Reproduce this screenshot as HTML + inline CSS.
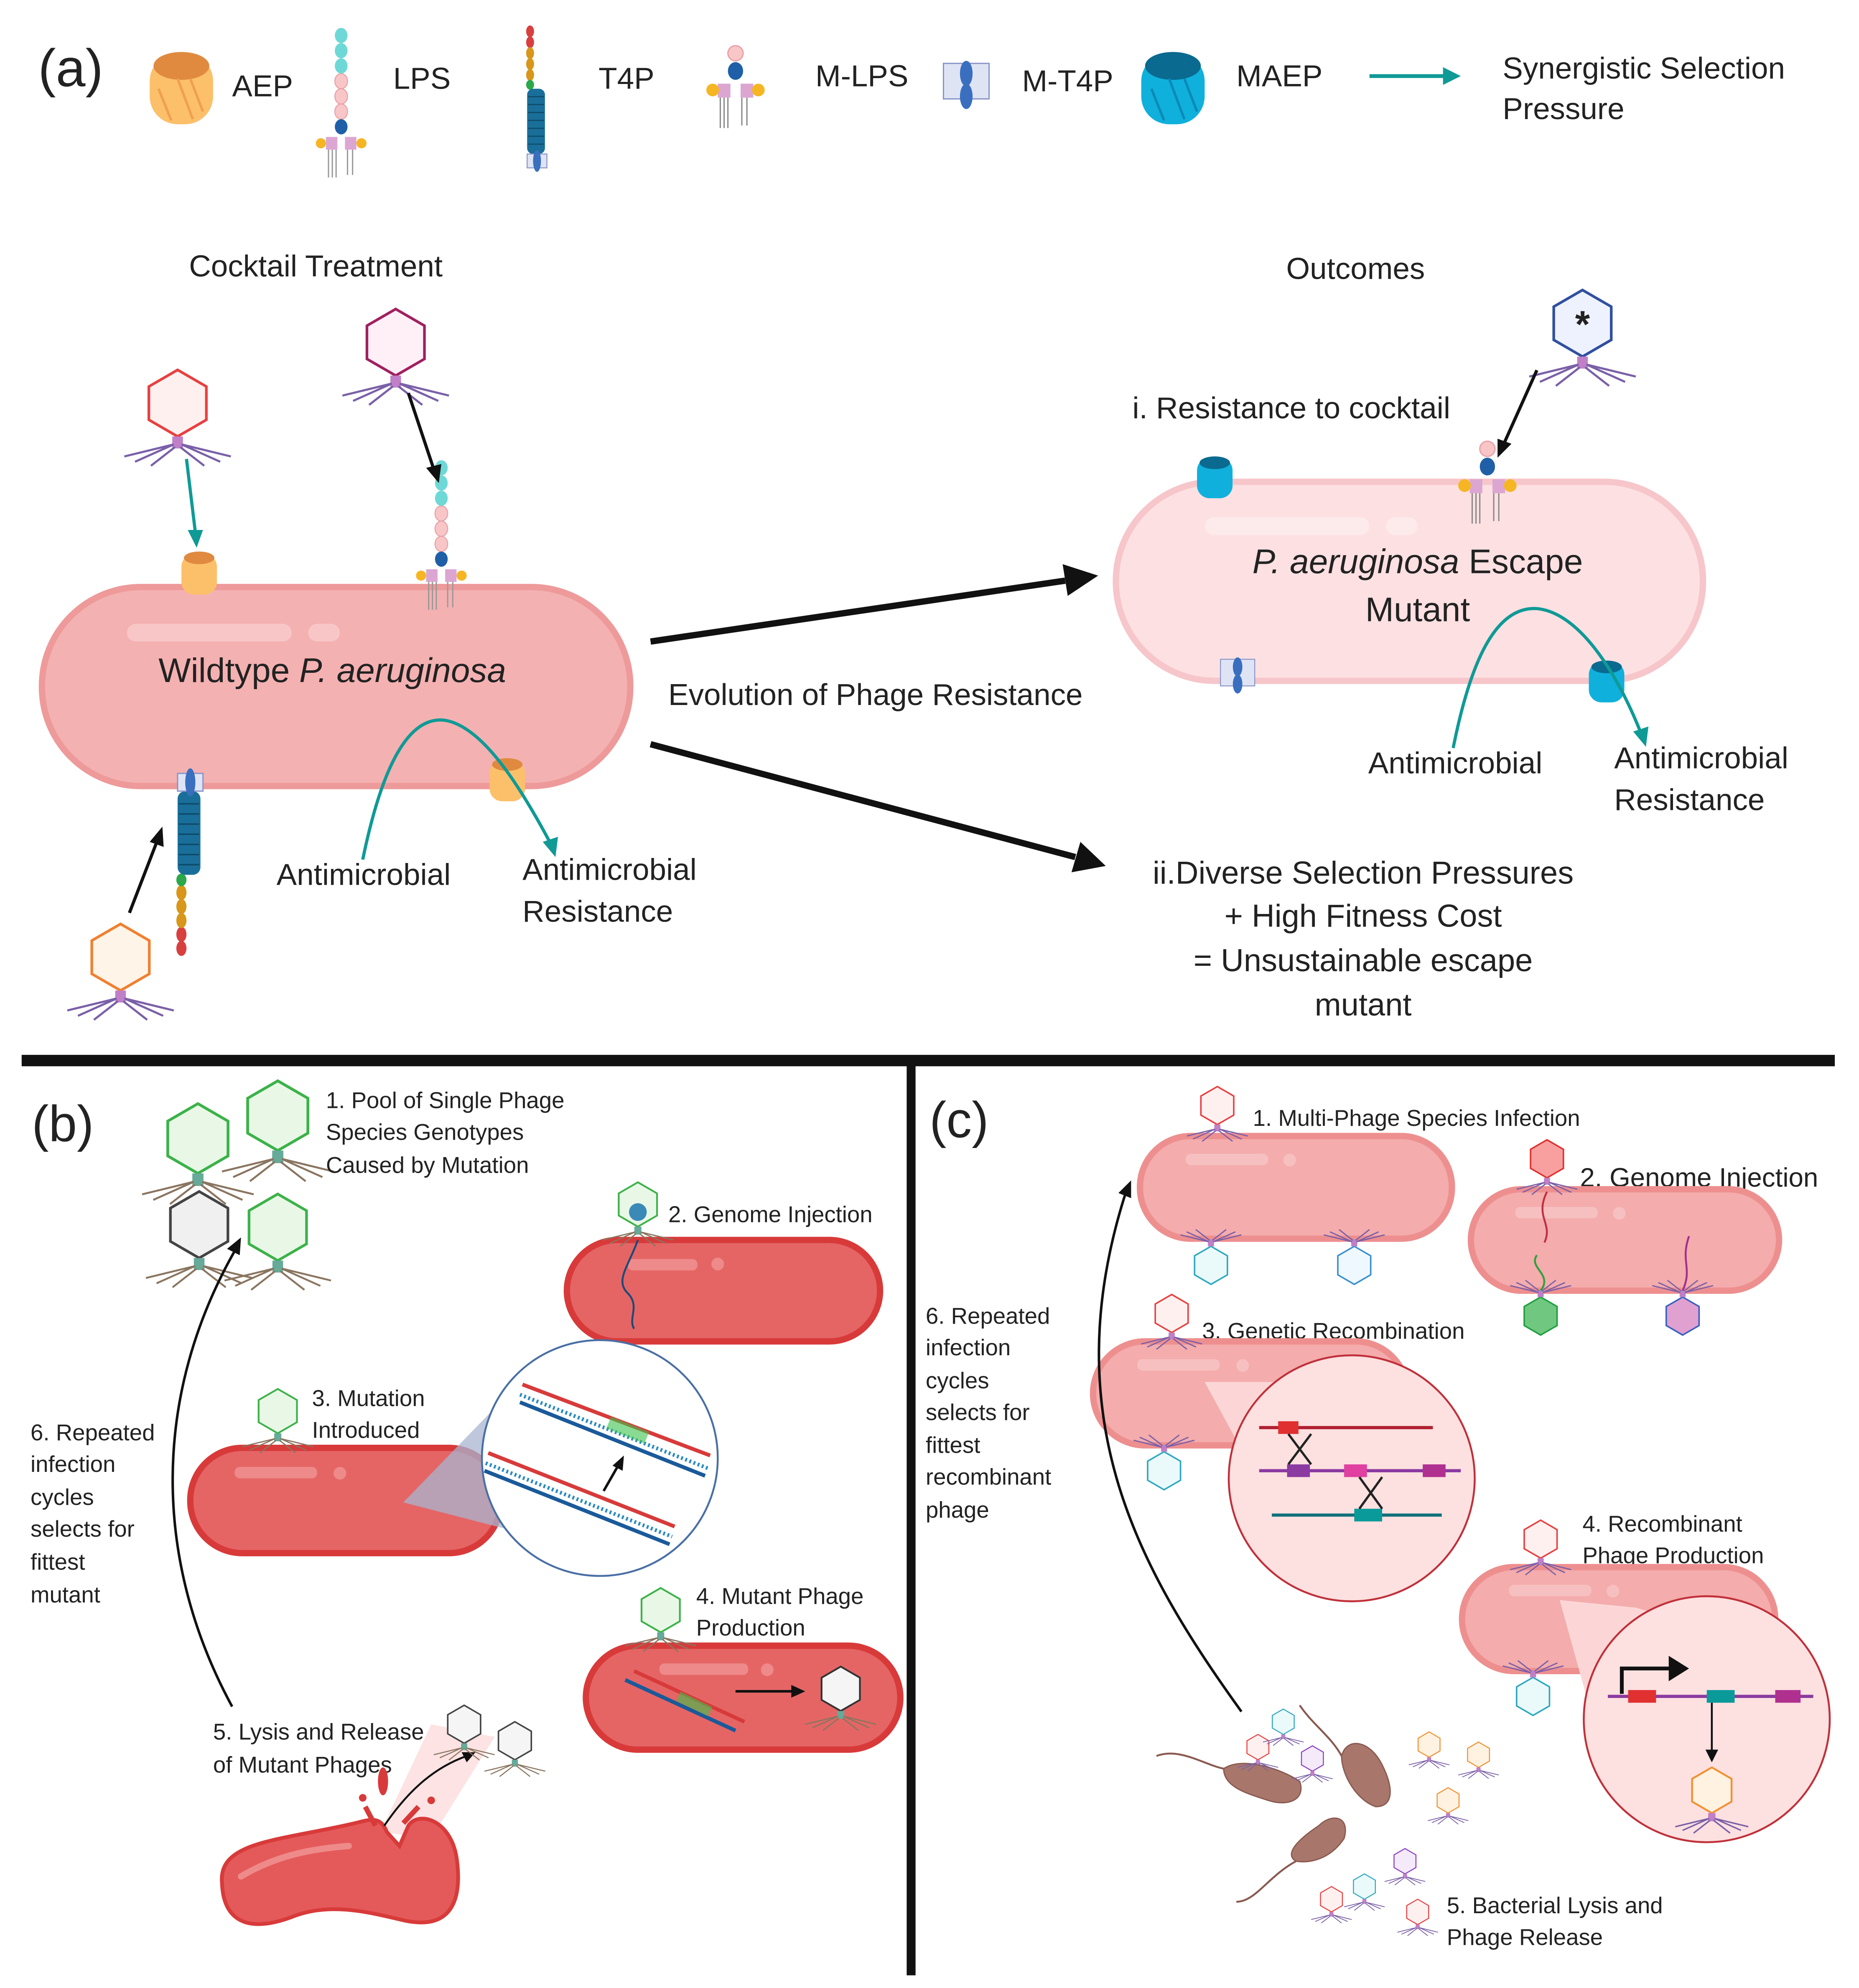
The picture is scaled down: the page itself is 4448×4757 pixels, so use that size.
<!DOCTYPE html>
<html><head><meta charset="utf-8"><style>
html,body{margin:0;padding:0;background:#fff}
svg{display:block}
text{font-family:"Liberation Sans",sans-serif;fill:#222}
</style></head><body>
<svg width="4448" height="4757" viewBox="0 0 1466 1568" xmlns="http://www.w3.org/2000/svg">
<defs>
<g id="ph">
<polygon points="0,-25 21.6,-12.5 21.6,12.5 0,25 -21.6,12.5 -21.6,-12.5" stroke-width="2"/>
<rect x="-4" y="25" width="8" height="9" fill="#c080c8" stroke="none"/>
<path d="M-3,31 L-32,44 M-3,31 L-40,40 M3,31 L32,44 M3,31 L40,40 M-2,33 L-20,47 M2,33 L20,47" stroke="#7a60a8" fill="none" stroke-width="1.6"/>
</g>
<g id="phb">
<polygon points="0,-25 21.6,-12.5 21.6,12.5 0,25 -21.6,12.5 -21.6,-12.5" stroke-width="2"/>
<rect x="-4" y="25" width="8" height="9" fill="#6a9" stroke="none"/>
<path d="M-3,31 L-32,44 M-3,31 L-40,40 M3,31 L32,44 M3,31 L40,40 M-2,33 L-20,47 M2,33 L20,47" stroke="#8a7560" fill="none" stroke-width="1.4"/>
</g>
<g id="lps">
<g fill="#f9c6c8" stroke="#e9a0a6" stroke-width="0.8">
<ellipse cx="0" cy="-20" rx="5" ry="6"/><ellipse cx="0" cy="-8" rx="5" ry="6"/><ellipse cx="0" cy="4" rx="5" ry="6"/></g>
<g fill="#6ed8d6"><ellipse cx="0" cy="-56" rx="5" ry="6"/><ellipse cx="0" cy="-44" rx="5" ry="6"/><ellipse cx="0" cy="-32" rx="5" ry="6"/></g>
<ellipse cx="0" cy="16" rx="5" ry="6" fill="#1f5fa8"/>
<rect x="-12" y="24" width="9" height="10" fill="#dca6d2"/><rect x="3" y="24" width="9" height="10" fill="#dca6d2"/>
<circle cx="-16" cy="29" r="4" fill="#f6b623"/><circle cx="16" cy="29" r="4" fill="#f6b623"/>
<path d="M-10,34 v22 M-7,34 v22 M-4,34 v22 M5,34 v20 M9,34 v20" stroke="#999" stroke-width="1"/>
</g>
<g id="t4p">
<g fill="#d84040"><ellipse cx="0" cy="-58" rx="4" ry="6"/><ellipse cx="0" cy="-47" rx="4" ry="6"/></g>
<g fill="#d8961a"><ellipse cx="0" cy="-36" rx="4" ry="6"/><ellipse cx="0" cy="-25" rx="4" ry="6"/><ellipse cx="0" cy="-14" rx="4" ry="6"/></g>
<ellipse cx="0" cy="-4" rx="4" ry="5" fill="#2aa84a"/>
<rect x="-3" y="0" width="18" height="66" rx="6" fill="#1a6f9a"/>
<path d="M-2,8 h16 M-2,16 h16 M-2,24 h16 M-2,32 h16 M-2,40 h16 M-2,48 h16 M-2,56 h16" stroke="#0e4b6a" stroke-width="1.2"/>
<rect x="-3" y="66" width="20" height="14" fill="#dfe4f4" stroke="#8a94c8"/>
<ellipse cx="7" cy="73" rx="4" ry="11" fill="#3a6fbf"/>
</g>
<g id="mt4p">
<rect x="-18" y="0" width="36" height="28" fill="#dfe4f4" stroke="#8a94c8"/>
<ellipse cx="0" cy="8" rx="5" ry="10" fill="#3a6fbf"/><ellipse cx="0" cy="26" rx="5" ry="10" fill="#3a6fbf"/>
</g>
<g id="mlps">
<ellipse cx="0" cy="-20" rx="6" ry="6" fill="#f9c6c8" stroke="#e9a0a6"/>
<ellipse cx="0" cy="-6" rx="6" ry="7" fill="#1f5fa8"/>
<rect x="-14" y="4" width="10" height="11" fill="#dca6d2"/><rect x="4" y="4" width="10" height="11" fill="#dca6d2"/>
<circle cx="-18" cy="9" r="5" fill="#f6b623"/><circle cx="18" cy="9" r="5" fill="#f6b623"/>
<path d="M-12,15 v24 M-9,15 v24 M-6,15 v24 M5,15 v22 M9,15 v22" stroke="#888" stroke-width="1"/>
</g>
</defs>

<!-- (a) legend -->
<text x="30" y="68" font-size="42">(a)</text>
<rect x="118" y="42" width="50" height="56" rx="22" fill="#fcc06a"/>
<ellipse cx="143" cy="52" rx="22" ry="11" fill="#e08a40"/>
<path d="M125,70 l10,25 M140,62 l12,32 M150,62 l10,26" stroke="#f0a050" stroke-width="2"/>
<text x="183" y="76" font-size="24">AEP</text>
<use href="#lps" transform="translate(269,84)"/>
<text x="310" y="70" font-size="24">LPS</text>
<use href="#t4p" transform="translate(418,70) scale(0.78)"/>
<text x="472" y="70" font-size="24">T4P</text>
<use href="#mlps" transform="translate(580,62)"/>
<text x="643" y="68" font-size="24">M-LPS</text>
<use href="#mt4p" transform="translate(762,50)"/>
<text x="806" y="72" font-size="24">M-T4P</text>
<rect x="900" y="42" width="50" height="56" rx="22" fill="#10b0dc"/>
<ellipse cx="925" cy="52" rx="22" ry="11" fill="#0a6a90"/>
<path d="M908,70 l10,25 M922,62 l12,32 M934,62 l10,26" stroke="#0a8ab8" stroke-width="2"/>
<text x="975" y="68" font-size="24">MAEP</text>
<line x1="1080" y1="60" x2="1140" y2="60" stroke="#0f9a96" stroke-width="3"/>
<polygon points="1152,60 1138,53 1138,67" fill="#0f9a96"/>
<text x="1185" y="62" font-size="24">Synergistic Selection</text>
<text x="1185" y="94" font-size="24">Pressure</text>

<text x="249" y="218" font-size="24" text-anchor="middle">Cocktail Treatment</text>
<text x="1069" y="220" font-size="24" text-anchor="middle">Outcomes</text>

<!-- Wildtype cell -->
<rect x="33" y="463" width="464" height="157" rx="78" fill="#f4b1b1" stroke="#ee9a9a" stroke-width="5"/>
<rect x="100" y="492" width="130" height="14" rx="7" fill="#f8c6c6"/><rect x="243" y="492" width="25" height="14" rx="7" fill="#f8c6c6"/>
<text x="262" y="538" font-size="27" text-anchor="middle">Wildtype <tspan font-style="italic">P. aeruginosa</tspan></text>
<rect x="143" y="437" width="28" height="32" rx="10" fill="#fcc06a"/><ellipse cx="157" cy="440" rx="12" ry="5" fill="#e08a40"/>
<use href="#lps" transform="translate(348,425)"/>
<use href="#t4p" transform="translate(143,690) scale(1,-1)"/>
<rect x="386" y="600" width="28" height="32" rx="10" fill="#fcc06a"/><ellipse cx="400" cy="603" rx="12" ry="5" fill="#e08a40"/>
<use href="#ph" transform="translate(140,318) scale(1.05)" fill="#fff0f0" stroke="#e84040"/>
<use href="#ph" transform="translate(312,270) scale(1.05)" fill="#fff0f8" stroke="#a02060"/>
<use href="#ph" transform="translate(95,755) scale(1.05) rotate(0)" fill="#fff4e8" stroke="#f08030"/>
<line x1="147" y1="362" x2="154" y2="420" stroke="#0f9a96" stroke-width="2.5"/><polygon points="155,432 148,418 160,418" fill="#0f9a96"/>
<line x1="322" y1="310" x2="342" y2="370" stroke="#111" stroke-width="2.5"/><polygon points="346,381 336,369 348,366" fill="#111"/>
<line x1="102" y1="720" x2="124" y2="663" stroke="#111" stroke-width="2.5"/><polygon points="128,652 129,668 118,664" fill="#111"/>
<path d="M286,678 C300,610 320,565 350,568 C380,572 410,620 434,665" stroke="#0f9a96" stroke-width="2.5" fill="none"/><polygon points="438,676 428,664 440,660" fill="#0f9a96"/>
<text x="218" y="698" font-size="24">Antimicrobial</text>
<text x="412" y="694" font-size="24">Antimicrobial</text>
<text x="412" y="727" font-size="24">Resistance</text>

<!-- arrows -->
<line x1="513" y1="506" x2="840" y2="458" stroke="#111" stroke-width="5"/><polygon points="866,454 838,445 842,470" fill="#111"/>
<line x1="513" y1="587" x2="848" y2="676" stroke="#111" stroke-width="5"/><polygon points="872,683 852,664 845,688" fill="#111"/>
<text x="527" y="556" font-size="24">Evolution of Phage Resistance</text>

<!-- Escape mutant -->
<text x="893" y="330" font-size="24">i. Resistance to cocktail</text>
<use href="#ph" transform="translate(1248,255) scale(1.05)" fill="#eef2ff" stroke="#3050a0"/>
<text x="1248" y="266" font-size="30" text-anchor="middle" font-weight="bold">*</text>
<line x1="1212" y1="292" x2="1186" y2="350" stroke="#111" stroke-width="2.5"/><polygon points="1181,361 1181,346 1192,350" fill="#111"/>
<rect x="880" y="380" width="463" height="157" rx="78" fill="#fde0e2" stroke="#f6c6ca" stroke-width="5"/>
<rect x="950" y="408" width="130" height="14" rx="7" fill="#fdeaea"/><rect x="1093" y="408" width="25" height="14" rx="7" fill="#fdeaea"/>
<text x="1118" y="452" font-size="27" text-anchor="middle"><tspan font-style="italic">P. aeruginosa</tspan> Escape</text>
<text x="1118" y="490" font-size="27" text-anchor="middle">Mutant</text>
<rect x="944" y="361" width="28" height="32" rx="10" fill="#10b0dc"/><ellipse cx="958" cy="365" rx="12" ry="5" fill="#0a6a90"/>
<use href="#mlps" transform="translate(1173,374)"/>
<use href="#mt4p" transform="translate(976,520) scale(0.75)"/>
<rect x="1253" y="522" width="28" height="32" rx="10" fill="#10b0dc"/><ellipse cx="1267" cy="526" rx="12" ry="5" fill="#0a6a90"/>
<path d="M1146,590 C1160,520 1180,478 1212,480 C1245,483 1275,530 1294,578" stroke="#0f9a96" stroke-width="2.5" fill="none"/><polygon points="1298,589 1288,577 1300,573" fill="#0f9a96"/>
<text x="1079" y="610" font-size="24">Antimicrobial</text>
<text x="1273" y="606" font-size="24">Antimicrobial</text>
<text x="1273" y="639" font-size="24">Resistance</text>
<g font-size="25" text-anchor="middle">
<text x="1075" y="697">ii.Diverse Selection Pressures</text>
<text x="1075" y="731">+ High Fitness Cost</text>
<text x="1075" y="766">= Unsustainable escape</text>
<text x="1075" y="801">mutant</text>
</g>

<!-- dividers -->
<rect x="17" y="832" width="1430" height="9" fill="#111"/>
<rect x="715" y="836" width="7" height="722" fill="#111"/>

<!-- (b) -->
<text x="25" y="900" font-size="40">(b)</text>
<use href="#phb" transform="translate(156,898) scale(1.1)" fill="#e9f8e6" stroke="#3cb24a"/>
<use href="#phb" transform="translate(219,880) scale(1.1)" fill="#e9f8e6" stroke="#3cb24a"/>
<use href="#phb" transform="translate(157,966) scale(1.05)" fill="#f0f0f0" stroke="#444"/>
<use href="#phb" transform="translate(219,968) scale(1.05)" fill="#e9f8e6" stroke="#3cb24a"/>
<g font-size="18">
<text x="257" y="874">1. Pool of Single Phage</text>
<text x="257" y="899">Species Genotypes</text>
<text x="257" y="925">Caused by Mutation</text>
<text x="527" y="964">2. Genome Injection</text>
<text x="246" y="1109">3. Mutation</text>
<text x="246" y="1134">Introduced</text>
<text x="549" y="1265">4. Mutant Phage</text>
<text x="549" y="1290">Production</text>
<text x="168" y="1372">5. Lysis and Release</text>
<text x="168" y="1398">of Mutant Phages</text>
<text x="24" y="1136">6. Repeated</text>
<text x="24" y="1161">infection</text>
<text x="24" y="1187">cycles</text>
<text x="24" y="1212">selects for</text>
<text x="24" y="1238">fittest</text>
<text x="24" y="1264">mutant</text>
</g>
<rect x="447" y="978" width="247" height="80" rx="40" fill="#e56565" stroke="#d83a3a" stroke-width="5"/>
<rect x="495" y="993" width="55" height="9" rx="4" fill="#ee8a8a"/><circle cx="566" cy="997" r="5" fill="#ee8a8a"/>
<use href="#phb" transform="translate(503,950) scale(0.7)" fill="#e9f8e6" stroke="#3cb24a"/>
<circle cx="503" cy="956" r="7" fill="#3a8ab8"/>
<path d="M503,978 C495,1000 485,1010 495,1020 C505,1030 495,1040 500,1048" stroke="#1a4a7a" stroke-width="1.5" fill="none"/>
<rect x="150" y="1142" width="245" height="83" rx="41" fill="#e56565" stroke="#d83a3a" stroke-width="5"/>
<rect x="185" y="1157" width="65" height="9" rx="4" fill="#ee8a8a"/><circle cx="268" cy="1162" r="5" fill="#ee8a8a"/>
<use href="#phb" transform="translate(219,1113) scale(0.7)" fill="#e9f8e6" stroke="#3cb24a"/>
<polygon points="318,1185 410,1090 500,1232" fill="#a8b4d0" opacity="0.75"/>
<circle cx="473" cy="1150" r="93" fill="#fff" stroke="#4a6fa5" stroke-width="1.5"/>
<g stroke-width="3">
<line x1="412" y1="1092" x2="560" y2="1148" stroke="#d83a3a"/>
<line x1="410" y1="1100" x2="558" y2="1158" stroke="#2a8ac0" stroke-dasharray="1.5 2"/>
<line x1="410" y1="1106" x2="556" y2="1164" stroke="#1a5a9a"/>
<line x1="385" y1="1146" x2="532" y2="1204" stroke="#d83a3a"/>
<line x1="383" y1="1154" x2="530" y2="1212" stroke="#2a8ac0" stroke-dasharray="1.5 2"/>
<line x1="382" y1="1160" x2="528" y2="1218" stroke="#1a5a9a"/>
<line x1="480" y1="1122" x2="510" y2="1134" stroke="#3cc24a" stroke-width="10" opacity="0.6"/>
</g>
<line x1="476" y1="1176" x2="488" y2="1155" stroke="#111" stroke-width="2"/><polygon points="492,1148 483,1156 491,1160" fill="#111"/>
<rect x="462" y="1298" width="248" height="82" rx="41" fill="#e56565" stroke="#d83a3a" stroke-width="5"/>
<rect x="520" y="1312" width="70" height="9" rx="4" fill="#ee8a8a"/><circle cx="605" cy="1317" r="5" fill="#ee8a8a"/>
<use href="#phb" transform="translate(521,1270) scale(0.7)" fill="#e9f8e6" stroke="#3cb24a"/>
<g stroke-width="3"><line x1="493" y1="1325" x2="580" y2="1365" stroke="#1a5a9a"/><line x1="500" y1="1318" x2="587" y2="1358" stroke="#d83a3a"/><line x1="535" y1="1338" x2="560" y2="1350" stroke="#3cc24a" stroke-width="8" opacity="0.6"/></g>
<line x1="580" y1="1334" x2="625" y2="1334" stroke="#111" stroke-width="2"/><polygon points="635,1334 624,1329 624,1339" fill="#111"/>
<use href="#phb" transform="translate(663,1332) scale(0.7)" fill="#f5f5f5" stroke="#333"/>
<polygon points="300,1445 340,1360 390,1370 340,1450" fill="#fcd0d0" opacity="0.6"/>
<path d="M175,1485 C172,1452 220,1452 280,1438 C292,1435 300,1432 305,1445 L315,1456 L322,1440 C330,1428 355,1435 360,1465 C365,1500 355,1522 320,1515 C290,1508 260,1500 230,1512 C195,1525 176,1515 175,1485 Z" fill="#e45a5a" stroke="#d83a3a" stroke-width="3"/>
<path d="M190,1480 C220,1462 250,1458 275,1456" stroke="#ee8a8a" stroke-width="5" fill="none" stroke-linecap="round"/>
<path d="M296,1440 L288,1425 M318,1438 L330,1425" stroke="#d83a3a" stroke-width="4"/>
<ellipse cx="302" cy="1405" rx="4" ry="11" fill="#d83a3a"/><circle cx="286" cy="1418" r="3" fill="#d83a3a"/><circle cx="340" cy="1420" r="3" fill="#d83a3a"/>
<path d="M303,1440 C320,1415 340,1395 368,1385" stroke="#111" stroke-width="1.5" fill="none"/><polygon points="375,1382 364,1382 368,1390" fill="#111"/>
<use href="#phb" transform="translate(366,1360) scale(0.6)" fill="#f5f5f5" stroke="#444"/>
<use href="#phb" transform="translate(406,1373) scale(0.6)" fill="#f5f5f5" stroke="#444"/>
<path d="M183,1346 C120,1230 120,1100 186,985" stroke="#111" stroke-width="2" fill="none"/><polygon points="190,976 179,985 189,990" fill="#111"/>

<!-- (c) -->
<text x="733" y="897" font-size="40">(c)</text>
<g font-size="18">
<text x="988" y="888">1. Multi-Phage Species Infection</text>
<text x="1246" y="936" font-size="21">2. Genome Injection</text>
<text x="948" y="1056">3. Genetic Recombination</text>
<text x="1248" y="1208">4. Recombinant</text>
<text x="1248" y="1233">Phage Production</text>
<text x="1141" y="1509">5. Bacterial Lysis and</text>
<text x="1141" y="1534">Phage Release</text>
<text x="730" y="1044">6. Repeated</text>
<text x="730" y="1069">infection</text>
<text x="730" y="1095">cycles</text>
<text x="730" y="1120">selects for</text>
<text x="730" y="1146">fittest</text>
<text x="730" y="1171">recombinant</text>
<text x="730" y="1197">phage</text>
</g>
<rect x="899" y="896" width="246" height="81" rx="40" fill="#f4acac" stroke="#ee8f8f" stroke-width="5"/>
<rect x="935" y="910" width="65" height="9" rx="4" fill="#f7c0c0"/><circle cx="1017" cy="915" r="5" fill="#f7c0c0"/>
<use href="#ph" transform="translate(960,872) scale(0.6)" fill="#fff0f0" stroke="#e84040"/>
<use href="#ph" transform="translate(955,998) scale(0.6,-0.6)" fill="#eafafa" stroke="#30a8c0"/>
<use href="#ph" transform="translate(1068,998) scale(0.6,-0.6)" fill="#f0f8ff" stroke="#3a90d0"/>
<rect x="1160" y="938" width="243" height="80" rx="40" fill="#f4acac" stroke="#ee8f8f" stroke-width="5"/>
<rect x="1195" y="952" width="65" height="9" rx="4" fill="#f7c0c0"/><circle cx="1277" cy="957" r="5" fill="#f7c0c0"/>
<use href="#ph" transform="translate(1220,914) scale(0.6)" fill="#f8a0a0" stroke="#e03030"/>
<use href="#ph" transform="translate(1215,1038) scale(0.6,-0.6)" fill="#70c880" stroke="#20a040"/>
<use href="#ph" transform="translate(1327,1038) scale(0.6,-0.6)" fill="#e0a0d0" stroke="#3a60c0"/>
<path d="M1220,940 C1210,960 1225,965 1218,980" stroke="#c03040" stroke-width="1.5" fill="none"/>
<path d="M1215,1018 C1225,1005 1205,1000 1212,990" stroke="#30a040" stroke-width="1.5" fill="none"/>
<path d="M1327,1018 C1335,1000 1325,995 1332,975" stroke="#a03090" stroke-width="1.5" fill="none"/>
<rect x="862" y="1058" width="248" height="82" rx="41" fill="#f4acac" stroke="#ee8f8f" stroke-width="5"/>
<rect x="897" y="1072" width="65" height="9" rx="4" fill="#f7c0c0"/><circle cx="980" cy="1077" r="5" fill="#f7c0c0"/>
<use href="#ph" transform="translate(924,1036) scale(0.6)" fill="#fff0f0" stroke="#e84040"/>
<use href="#ph" transform="translate(918,1160) scale(0.6,-0.6)" fill="#eafafa" stroke="#30a8c0"/>
<polygon points="950,1090 1010,1090 1080,1075 1010,1200" fill="#fcd6d6"/>
<circle cx="1066" cy="1166" r="97" fill="#fde0e0" stroke="#c0303a" stroke-width="1.5"/>
<g stroke-width="2.5">
<line x1="993" y1="1126" x2="1130" y2="1126" stroke="#b02030"/>
<line x1="993" y1="1160" x2="1152" y2="1160" stroke="#8a3aa0"/>
<line x1="1003" y1="1195" x2="1137" y2="1195" stroke="#10707a"/>
<rect x="1008" y="1121" width="16" height="10" fill="#e03030"/>
<rect x="1015" y="1155" width="18" height="10" fill="#8a3aa0"/><rect x="1060" y="1155" width="18" height="10" fill="#e040a0"/><rect x="1122" y="1155" width="18" height="10" fill="#b03090"/>
<rect x="1068" y="1190" width="22" height="10" fill="#0a9a9a"/>
<path d="M1016,1131 L1034,1155 M1034,1131 L1016,1155 M1072,1165 L1090,1190 M1090,1165 L1072,1190" stroke="#222" stroke-width="1.8"/>
</g>
<rect x="1153" y="1236" width="247" height="82" rx="41" fill="#f4acac" stroke="#ee8f8f" stroke-width="5"/>
<rect x="1190" y="1250" width="65" height="9" rx="4" fill="#f7c0c0"/><circle cx="1272" cy="1255" r="5" fill="#f7c0c0"/>
<use href="#ph" transform="translate(1215,1214) scale(0.6)" fill="#fff0f0" stroke="#e84040"/>
<use href="#ph" transform="translate(1209,1338) scale(0.6,-0.6)" fill="#eafafa" stroke="#30a8c0"/>
<polygon points="1230,1262 1290,1268 1350,1285 1260,1370" fill="#fcd6d6"/>
<circle cx="1346" cy="1356" r="97" fill="#fde0e0" stroke="#c0303a" stroke-width="1.5"/>
<line x1="1268" y1="1338" x2="1430" y2="1338" stroke="#8a3aa0" stroke-width="2.5"/>
<rect x="1284" y="1333" width="22" height="10" fill="#e03030"/><rect x="1346" y="1333" width="22" height="10" fill="#0a9a9a"/><rect x="1400" y="1333" width="20" height="10" fill="#b03090"/>
<path d="M1279,1336 V1316 H1318" stroke="#111" stroke-width="3" fill="none"/><polygon points="1332,1316 1316,1306 1316,1326" fill="#111"/>
<line x1="1350" y1="1343" x2="1350" y2="1382" stroke="#111" stroke-width="1.5"/><polygon points="1350,1390 1345,1380 1355,1380" fill="#111"/>
<use href="#ph" transform="translate(1350,1412) scale(0.72)" fill="#fff2e0" stroke="#f09030"/>
<path d="M979,1350 C900,1240 830,1120 888,940" stroke="#111" stroke-width="2" fill="none"/><polygon points="892,931 882,941 892,945" fill="#111"/>
<!-- lysed bacteria -->
<g fill="#a8766a" stroke="#8a5a50" stroke-width="1">
<path d="M965,1395 C980,1385 1010,1395 1025,1405 C1030,1420 1015,1425 1000,1420 C985,1415 965,1410 965,1395Z"/>
<path d="M1058,1385 C1062,1370 1080,1372 1090,1392 C1100,1412 1098,1425 1085,1425 C1070,1420 1058,1400 1058,1385Z"/>
<path d="M1040,1440 C1050,1430 1065,1432 1060,1450 C1050,1465 1035,1470 1022,1468 C1012,1462 1025,1450 1040,1440Z"/>
</g>
<path d="M912,1385 C930,1378 950,1392 965,1395 M1025,1345 C1035,1360 1050,1370 1058,1385 M1022,1468 C1000,1480 990,1500 975,1500" stroke="#8a5a50" stroke-width="1.5" fill="none"/>
<g>
<use href="#ph" transform="translate(992,1378) scale(0.4)" fill="#fff0f0" stroke="#e84040"/>
<use href="#ph" transform="translate(1012,1358) scale(0.4)" fill="#eafafa" stroke="#30a8c0"/>
<use href="#ph" transform="translate(1035,1387) scale(0.4)" fill="#f4eafa" stroke="#8a40c0"/>
<use href="#ph" transform="translate(1127,1376) scale(0.4)" fill="#fff2e0" stroke="#f09030"/>
<use href="#ph" transform="translate(1166,1384) scale(0.4)" fill="#fff2e0" stroke="#f09030"/>
<use href="#ph" transform="translate(1142,1420) scale(0.4)" fill="#fff2e0" stroke="#f09030"/>
<use href="#ph" transform="translate(1108,1468) scale(0.4)" fill="#f4eafa" stroke="#8a40c0"/>
<use href="#ph" transform="translate(1076,1488) scale(0.4)" fill="#eafafa" stroke="#30a8c0"/>
<use href="#ph" transform="translate(1050,1498) scale(0.4)" fill="#fff0f0" stroke="#e84040"/>
<use href="#ph" transform="translate(1118,1508) scale(0.4)" fill="#fff0f0" stroke="#e84040"/>
</g>
</svg>
</body></html>
